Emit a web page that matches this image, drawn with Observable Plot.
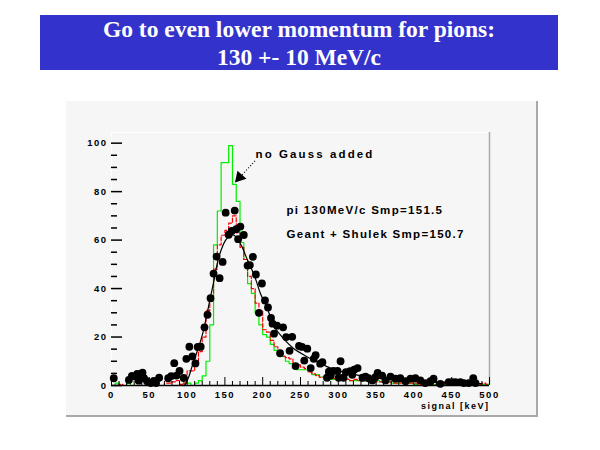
<!DOCTYPE html>
<html><head><meta charset="utf-8">
<script src="https://cdn.jsdelivr.net/npm/d3@7"></script>
<script src="https://cdn.jsdelivr.net/npm/@observablehq/plot@0.6"></script>
<style>
body{margin:0;background:#fff;width:600px;height:450px;position:relative;overflow:hidden}
#banner{position:absolute;left:40px;top:15px;width:518px;height:55px;background:#3333cc;color:#fff;font:bold 23.5px "Liberation Serif","Times New Roman",serif;text-align:center;line-height:28px;padding-top:0px;box-sizing:border-box}
#panel{position:absolute;left:66px;top:101px;width:470px;height:314px;background:#f6f6f6;border-right:2px solid #a9a9a9;border-bottom:2px solid #a9a9a9}
#panel svg text{letter-spacing:1.5px}
</style></head>
<body>
<div id="banner">Go to even lower momentum for pions:<br>130 +- 10 MeV/c</div>
<div id="panel"></div>
<script>
// ---- data ----
const binWidth = 5;
const xDomain = [0, 500];
const yDomain = [0, 104.4];
const xMajorTicks = [0, 50, 100, 150, 200, 250, 300, 350, 400, 450, 500];
const yMajorTicks = [0, 20, 40, 60, 80, 100];

// green histogram ("no Gauss added"), bins of 5 keV from 0
const greenCounts = [
  0,1,0,0,1,0,0,0,0,0, 0,0,0,0,0,0,0,0,0,1,
  1,0,1,2,4,10,25,58,72,92, 92,99,83,76,59,52,42,38,30,25,
  21,20,17,14.5,14,12,10,9,8,6.5, 6.5,6.5,6,4.5,4.5,3.5,3.5,3.5,2.5,2.5,
  2.5,2.5,2.5,2,2,2,2,2,2,2, 2,1.5,1,1.5,1,1,1.5,1,1,1,
  0.5,1,1,0.5,1,0.5,1,0.5,0.5,1, 0.5,0.5,1,0.5,0.5,0.5,1,0.5,0.5,0.5
];
// red dashed histogram (Geant + Shulek)
const redCounts = [
  0,0,0.5,0,0,0,0,0,0,0, 0,0,0,0,1,1,1.5,2,0.5,1,
  6,6,9,14,20,31,37,48,58,62, 64,67,70,63,57,52,45,40,34,31,
  23,22,18.6,16,14,12,11.5,11,9,8.5, 7.6,7,5.5,4.8,4.1,3.4,3.4,3,3,2.8,
  2.8,2.5,2.5,2,2.5,2,2,2,1.5,2, 1.5,1.5,1,1.5,1,1,1,1.5,1,1,
  1,0.5,1,1,1,0.5,1,0.5,1,1, 0.5,0.5,1,1,0.5,0.5,1,0.5,1,0.5
];
// measured points (pi 130 MeV/c): [signal keV, counts]
const pionPoints = [
  [3,3],[23,2.3],[27,4],[31,3.7],[34,4.8],[36,2],[39,4.8],[41,5.3],[43,3],[47,1.8],
  [52,1],[56,1.9],[59,1],[63,3.2],[75,3],[79,3.9],[83,9.2],[86,4.1],[90,6],[95.5,3.1],
  [99,11],[103,16],[107,12],[111,9.1],[114,15.9],[118,16],[123,24],[127,29.2],[131,36],[135,46.2],
  [139,53.2],[143,44.3],[147,51],[151,71.3],[155,62.2],[159,63.8],[163,72.2],[165,64.5],[167.5,60.4],[170.5,65.6],
  [175,62.1],[180,49.5],[183,49.7],[187,53.1],[191,45.8],[195,30],[199,42.1],[203,35.1],[207,32.2],[211,27.9],
  [213,25.5],[215,21.4],[219,24.7],[223,13.3],[227,24],[231,20],[235.5,14.3],[239,20.1],[243.5,8],[248,16.3],
  [252,15.9],[255,10.3],[259,15.2],[263.5,7.2],[267.5,11],[270,12.5],[276,9],[279,9.6],[285,3.2],[287.5,5.7],
  [290,4.1],[293.5,6],[299,6],[300.5,3.2],[303,10],[307,3.2],[310,5.5],[315.5,5.9],[318.5,4.4],[321,6.5],
  [325.5,7.2],[332,3.2],[336,3.7],[340,3],[345,2.1],[349,3.4],[352,5.2],[358,4.1],[362.5,2.1],[369,3.7],
  [375.5,2.8],[382,3],[389,1.8],[395.5,2.8],[402,3],[408.5,2.1],[415,1],[422,1.8],[426,2.8],[435,0.7],
  [446,1.4],[450.5,1.4],[455,1.4],[461.5,1.4],[466,1],[472.5,1],[478.5,3],[481.5,1]
];
// fitted curve: [signal keV, counts]
const fitCurve = [
  [96,0],[98,0.7],[102,3.4],[107,8.3],[113,13.8],[120,20.7],[126,29],[131,36.6],[136,44],[139,49],
  [144,55],[151,60],[156.5,61.8],[162,62],[166,60.7],[173,57],[179.5,52],[184,49],[190.5,44],[197,38],
  [203.5,33.5],[210,28.7],[217,23.5],[230,18.5],[240,15.5],[258,12],[272,9.8],[285,7.8],[298.5,6.2],[320,4.6],
  [340,3.5],[360,2.7],[380,2.1],[400,1.7],[430,1.3],[460,1.0],[490,0.8]
];
const annoGauss = "no Gauss added";
const annoPi = "pi 130MeV/c Smp=151.5";
const annoGeant = "Geant + Shulek Smp=150.7";
const xLabel = "signal [keV]";

// ---- build ----
function steps(counts) {
  const s = counts.map((v, i) => ({x: i * binWidth, v}));
  s.push({x: counts.length * binWidth, v: counts[counts.length - 1]});
  return s;
}
const xMinor = d3.range(xDomain[0], xDomain[1] + 1, 10).filter(v => v % 50 !== 0);
const yMinor = d3.range(0, 101, 5).filter(v => v % 20 !== 0);

const W = 470, H = 314, mL = 45, mR = 47, mT = 31, mB = 30;
const innerW = W - mL - mR, innerH = H - mT - mB;

const chart = Plot.plot({
  width: W, height: H,
  marginLeft: mL, marginRight: mR, marginTop: mT, marginBottom: mB,
  x: {domain: xDomain},
  y: {domain: yDomain},
  style: {background: "transparent", fontFamily: "'Liberation Sans', Arial, sans-serif", overflow: "visible"},
  marks: [
    Plot.ruleY([yDomain[1]], {stroke: "white", strokeWidth: 1.2}),
    Plot.ruleX([xDomain[0]], {stroke: "white", strokeWidth: 1.2}),
    Plot.ruleX([xDomain[1]], {stroke: "#a9a9a9", strokeWidth: 1.5}),
    Plot.line(steps(greenCounts), {x: "x", y: "v", curve: "step-after", stroke: "#00ee00", strokeWidth: 1.2}),
    Plot.line(steps(redCounts), {x: "x", y: "v", curve: "step-after", stroke: "#ff0000", strokeWidth: 1.2, strokeDasharray: "4,2"}),
    Plot.line(fitCurve, {x: d => d[0], y: d => d[1], curve: "catmull-rom", stroke: "black", strokeWidth: 1.2}),
    Plot.dot(pionPoints, {x: d => d[0], y: d => d[1], r: 3.9, fill: "black"}),
    Plot.ruleY([0], {stroke: "black", strokeWidth: 1.5}),
    Plot.tickX(xMajorTicks, {x: d => d, insetTop: innerH - 8, stroke: "black"}),
    Plot.tickX(xMinor, {x: d => d, insetTop: innerH - 4, stroke: "black"}),
    Plot.tickY(yMajorTicks, {y: d => d, insetRight: innerW - 11, stroke: "black", strokeWidth: 1.5}),
    Plot.tickY(yMinor, {y: d => d, insetRight: innerW - 6, stroke: "black", strokeWidth: 1.5}),
    Plot.axisX({ticks: xMajorTicks, tickSize: 0, tickPadding: 6, label: null, fontSize: 9.5, fontWeight: "bold", fill: "black"}),
    Plot.axisY({ticks: yMajorTicks, tickSize: 0, tickPadding: 4, label: null, fontSize: 9.5, fontWeight: "bold", fill: "black"}),
    Plot.text([xLabel], {frameAnchor: "bottom-right", dy: 23, textAnchor: "end", fontSize: 9, fontWeight: "bold", fill: "black"}),
    Plot.text([annoGauss], {x: 190.5, y: 95.5, textAnchor: "start", fontSize: 11.5, fontWeight: "bold", fill: "black"}),
    Plot.text([annoPi], {x: 231.5, y: 72.4, textAnchor: "start", fontSize: 11.5, fontWeight: "bold", fill: "black"}),
    Plot.text([annoGeant], {x: 231.5, y: 62.5, textAnchor: "start", fontSize: 11.5, fontWeight: "bold", fill: "black"}),
    Plot.link([0], {x1: 189.8, y1: 92.7, x2: 170, y2: 86, stroke: "black", strokeWidth: 1.2, strokeDasharray: "1,2"}),
    Plot.dot([0], {x: 169.5, y: 85.9, symbol: "triangle", r: 4.5, fill: "black", stroke: "none", rotate: 222})
  ]
});
document.getElementById("panel").appendChild(chart);
d3.select(chart).selectAll("text").each(function() {
  const t = this.textContent;
  if (t === annoGauss) this.style.letterSpacing = "2.1px";
  else if (t === annoPi || t === annoGeant) this.style.letterSpacing = "1.3px";
});
</script>
</body></html>
